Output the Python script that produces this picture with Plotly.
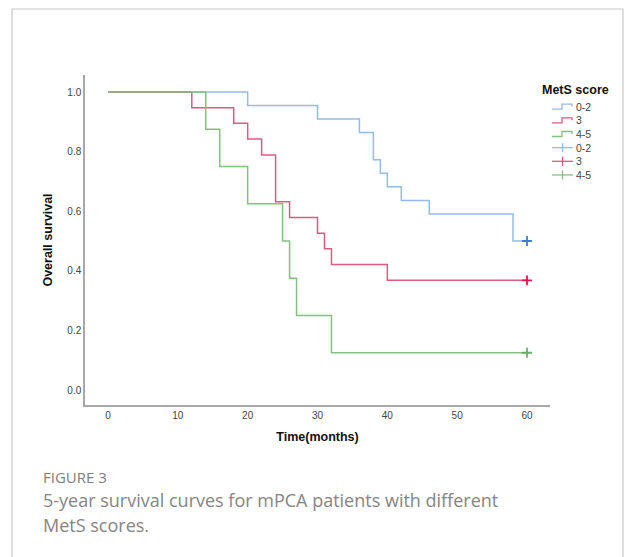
import plotly.graph_objects as go

# ---- data ----
groups = ["0-2", "3", "4-5"]
t_02 = [0, 20, 30, 36, 38, 39, 40, 42, 46, 58, 60]
s_02 = [1.0, 0.955, 0.909, 0.864, 0.773, 0.727, 0.682, 0.636, 0.591, 0.5, 0.5]
t_3 = [0, 12, 18, 20, 22, 24, 26, 30, 31, 32, 40, 60]
s_3 = [1.0, 0.947, 0.895, 0.842, 0.789, 0.632, 0.579, 0.526, 0.474, 0.421, 0.368, 0.368]
t_45 = [0, 14, 16, 20, 25, 26, 27, 32, 60]
s_45 = [1.0, 0.875, 0.75, 0.625, 0.5, 0.375, 0.25, 0.125, 0.125]
censor_t = [60, 60, 60]
censor_s = [0.5, 0.368, 0.125]
x_ticks = [0, 10, 20, 30, 40, 50, 60]
y_ticks = [0.0, 0.2, 0.4, 0.6, 0.8, 1.0]

line_colors = ["#92BCE9", "#E05A80", "#82C17E"]
cens_colors = ["#3A7CD6", "#E0124C", "#66B066"]

W, H = 625, 557
L, R, T, B = 85, 550, 75, 405  # plot area in pixels
def px(x):
    return (x - L) / (R - L)
def py(y):
    return (B - y) / (B - T)

fig = go.Figure()
series = [(t_02, s_02), (t_3, s_3), (t_45, s_45)]
for i, (t, s) in enumerate(series):
    fig.add_trace(go.Scatter(x=t, y=s, mode="lines", line=dict(color=line_colors[i], width=1.5, shape="hv"),
                             showlegend=False, hoverinfo="skip"))
for i in range(3):
    fig.add_trace(go.Scatter(x=[censor_t[i]], y=[censor_s[i]], mode="markers",
                             marker=dict(symbol="cross-thin", size=7, line=dict(color=cens_colors[i], width=1.8)),
                             showlegend=False, hoverinfo="skip"))

shapes = []
annotations = []
# card border
shapes.append(dict(type="rect", xref="paper", yref="paper", x0=px(12), x1=px(623), y0=py(570), y1=py(9),
                   line=dict(color="#C8C8C8", width=1.2), fillcolor="rgba(0,0,0,0)", layer="below"))

# custom legend
annotations.append(dict(text="<b>MetS score</b>", xref="paper", yref="paper", x=px(540), y=py(89.5),
                        xanchor="left", yanchor="middle", showarrow=False,
                        font=dict(family="Arial, Liberation Sans", size=12.5, color="#111")))
row_y0, dy = 106.7, 13.65
for i in range(6):
    yc = row_y0 + i * dy
    col = line_colors[i % 3] if i < 3 else cens_colors[i % 3]
    lcol = line_colors[i % 3]
    if i < 3:
        path = "M {} {} L {} {} L {} {} L {} {} L {} {}".format(
            px(552), py(yc + 2.5), px(562), py(yc + 2.5), px(562), py(yc - 2.5),
            px(572), py(yc - 2.5), px(572), py(yc))
        shapes.append(dict(type="path", xref="paper", yref="paper", path=path,
                           line=dict(color=lcol, width=1.3)))
    else:
        shapes.append(dict(type="line", xref="paper", yref="paper", x0=px(552), x1=px(573), y0=py(yc), y1=py(yc),
                           line=dict(color=lcol, width=1.3)))
        shapes.append(dict(type="line", xref="paper", yref="paper", x0=px(562.5), x1=px(562.5),
                           y0=py(yc - 4.5), y1=py(yc + 4.5), line=dict(color=lcol, width=1.3)))
    annotations.append(dict(text=groups[i % 3], xref="paper", yref="paper", x=px(573.5), y=py(yc),
                            xanchor="left", yanchor="middle", showarrow=False,
                            font=dict(family="Arial, Liberation Sans", size=10.5, color="#444")))

# caption
annotations.append(dict(text="FIGURE 3", xref="paper", yref="paper", x=px(41), y=py(477),
                        xanchor="left", yanchor="middle", showarrow=False,
                        font=dict(family="Open Sans", size=15, color="#808080")))
annotations.append(dict(text="5-year survival curves for mPCA patients with different", xref="paper", yref="paper",
                        x=px(41), y=py(500), xanchor="left", yanchor="middle", showarrow=False,
                        font=dict(family="Open Sans", size=18, color="#858585")))
annotations.append(dict(text="MetS scores.", xref="paper", yref="paper",
                        x=px(41), y=py(525), xanchor="left", yanchor="middle", showarrow=False,
                        font=dict(family="Open Sans", size=18, color="#858585")))

xppu = (527 - 108) / 60.0
yppu = (390 - 92) / 1.0
fig.update_layout(
    width=W, height=H, margin=dict(l=L, r=W - R, t=T, b=H - B),
    paper_bgcolor="white", plot_bgcolor="white",
    shapes=shapes, annotations=annotations, showlegend=False,
    xaxis=dict(range=[(L - 108) / xppu, (R - 108) / xppu], tickvals=x_ticks, ticktext=[str(v) for v in x_ticks],
               showgrid=False, zeroline=False, showline=True, linecolor="#A8A8A8", linewidth=1.5, ticks="",
               tickfont=dict(family="Arial, Liberation Sans", size=10, color="#444"),
               title=dict(text="<b>Time(months)</b>", standoff=12,
                          font=dict(family="Arial, Liberation Sans", size=12.5, color="#111"))),
    yaxis=dict(range=[-(B - 390) / yppu, 1 + (92 - T) / yppu], tickvals=y_ticks, tickformat=".1f",
               showgrid=False, zeroline=False, showline=True, linecolor="#A8A8A8", linewidth=1.5, ticks="",
               tickfont=dict(family="Arial, Liberation Sans", size=10, color="#444"),
               title=dict(text="<b>Overall survival</b>", standoff=12,
                          font=dict(family="Arial, Liberation Sans", size=12.5, color="#111"))),
)
fig.write_html("out.html")
